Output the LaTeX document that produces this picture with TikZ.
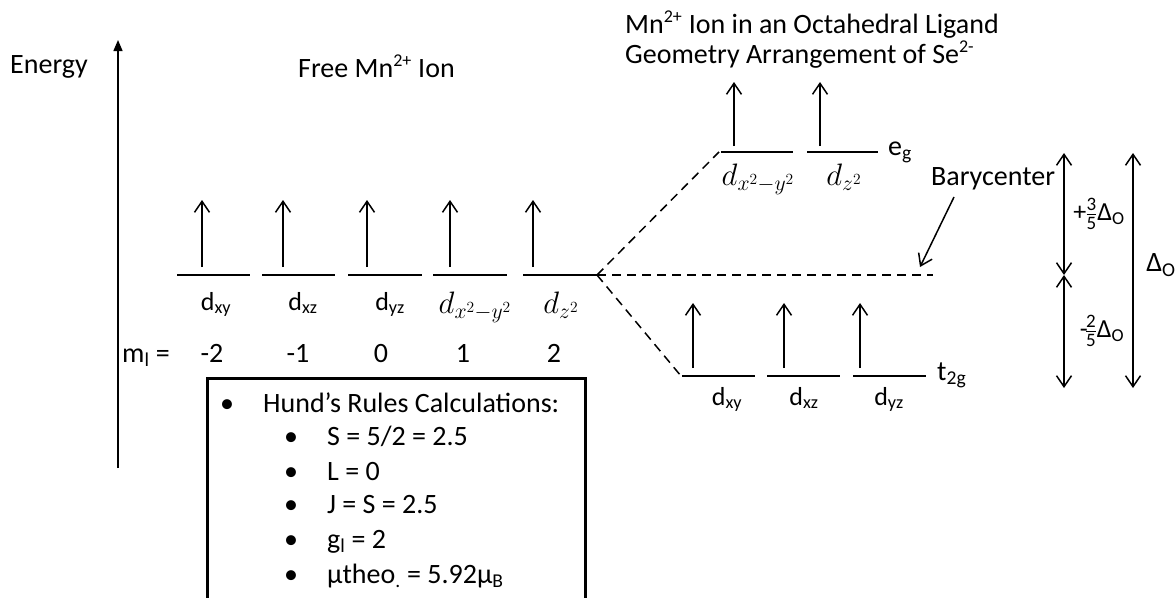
\RequirePackage{fix-cm}
\documentclass[tikz,border=0pt]{standalone}
\usepackage{amsmath}
\usepackage{fontspec}
\setmainfont{Carlito}
\usetikzlibrary{arrows.meta}
\newcommand{\fracdigit}[1]{\text{\fontsize{19}{19}\selectfont #1}}
\begin{document}
\begin{tikzpicture}[x=1pt,y=-1pt,
  lvl/.style={line width=2pt},
  spin/.style={line width=1.5pt,-{Straight Barb[length=11pt,width=15pt,line width=1.5pt]}},
  dbl/.style={line width=1.5pt,{Straight Barb[length=11pt,width=15pt,line width=1.5pt]}-{Straight Barb[length=11pt,width=15pt,line width=1.5pt]}},
  dashln/.style={line width=1.5pt,dash pattern=on 9pt off 6pt},
  big/.style={font=\fontsize{28}{32}\selectfont, inner sep=0pt},
  lab/.style={font=\fontsize{26}{30}\selectfont, inner sep=0pt},
  mathlab/.style={font=\fontsize{31}{34}\selectfont, inner sep=0pt},
  mlab/.style={font=\fontsize{28}{32}\selectfont, inner sep=0pt},
  frac/.style={font=\fontsize{26}{30}\selectfont, inner sep=0pt},
]
\useasboundingbox (0,0) rectangle (1175,597);

% energy axis
\coordinate (ax0) at (118,468);
\coordinate (ax1) at (118,40);
\draw[line width=1.5pt,-{Triangle[length=11pt,width=9pt]}] (ax0) -- (ax1);
\node[big,anchor=base west] (energy) at (10,73) {Energy};

% titles
\node[big,anchor=base west] (free) at (298,77) {Free Mn\textsuperscript{\fontsize{18}{20}\selectfont 2+} Ion};
\node[big,anchor=base west] (t1) at (625,33) {Mn\textsuperscript{\fontsize{18}{20}\selectfont 2+} Ion in an Octahedral Ligand};
\node[big,anchor=base west] (t2) at (625,63) {Geometry Arrangement of Se\textsuperscript{\fontsize{18}{20}\selectfont 2-}};

% free ion levels
\foreach \i/\a/\b/\s in {1/177/250/202, 2/262/335/283, 3/348/422/367, 4/433/507/450, 5/523/597/533} {
  \coordinate (fa\i) at (\a,275);
  \coordinate (fb\i) at (\b,275);
  \draw[lvl] (fa\i) -- (fb\i);
  \coordinate (fs\i) at (\s,267);
  \coordinate (ft\i) at (\s,200);
  \draw[spin] (fs\i) -- (ft\i);
}
\node[lab,anchor=base] (lf1) at (216,310) {d\textsubscript{xy}};
\node[lab,anchor=base] (lf2) at (303,310) {d\textsubscript{xz}};
\node[lab,anchor=base] (lf3) at (390,310) {d\textsubscript{yz}};
\node[mathlab,anchor=base] (lf4) at (475,313) {$d_{x^2-y^2}$};
\node[mathlab,anchor=base] (lf5) at (561,313) {$d_{z^2}$};

% m_l row
\node[mlab,anchor=base] (ml) at (146,362) {m\textsubscript{l} =};
\node[mlab,anchor=base] (m1) at (212,362) {-2};
\node[mlab,anchor=base] (m2) at (298,362) {-1};
\node[mlab,anchor=base] (m3) at (381,362) {0};
\node[mlab,anchor=base] (m4) at (463,362) {1};
\node[mlab,anchor=base] (m5) at (554,362) {2};

% vertex and dashed lines
\coordinate (vx) at (597,275);
\coordinate (eg0) at (719,152);
\coordinate (t0) at (681,376);
\coordinate (bc) at (933,275);
\draw[dashln] (vx) -- (eg0);
\draw[dashln] (vx) -- (t0);
\draw[dashln] (vx) -- (bc);

% e_g levels
\foreach \i/\a/\b/\s in {1/721/793/734, 2/807/878/820} {
  \coordinate (ea\i) at (\a,152);
  \coordinate (eb\i) at (\b,152);
  \draw[lvl] (ea\i) -- (eb\i);
  \coordinate (es\i) at (\s,146);
  \coordinate (et\i) at (\s,82);
  \draw[spin] (es\i) -- (et\i);
}
\node[mathlab,anchor=base] (le1) at (758,185) {$d_{x^2-y^2}$};
\node[mathlab,anchor=base] (le2) at (844,185) {$d_{z^2}$};
\node[big,anchor=base west] (eg) at (888,155) {e\textsubscript{g}};

% t_2g levels
\foreach \i/\a/\b/\s in {1/682/755/693, 2/767/840/784, 3/853/926/860} {
  \coordinate (ta\i) at (\a,376);
  \coordinate (tb\i) at (\b,376);
  \draw[lvl] (ta\i) -- (tb\i);
  \coordinate (ts\i) at (\s,368);
  \coordinate (tt\i) at (\s,303);
  \draw[spin] (ts\i) -- (tt\i);
}
\node[lab,anchor=base] (lt1) at (727,405) {d\textsubscript{xy}};
\node[lab,anchor=base] (lt2) at (804,405) {d\textsubscript{xz}};
\node[lab,anchor=base] (lt3) at (889,405) {d\textsubscript{yz}};
\node[big,anchor=base west] (t2g) at (937,380) {t\textsubscript{2g}};

% barycenter
\node[big,anchor=base west] (bary) at (931,185) {Barycenter};
\coordinate (ba0) at (954,197);
\coordinate (ba1) at (920,267);
\draw[spin] (ba0) -- (ba1);

% splitting arrows
\coordinate (s1) at (1064,153);
\coordinate (s2) at (1064,275);
\coordinate (s3) at (1064,388);
\coordinate (d1) at (1133,153);
\coordinate (d2) at (1133,388);
\draw[dbl] (s2) -- (s1);
\draw[dbl] (s2) -- (s3);
\draw[dbl] (d1) -- (d2);
\node[frac,anchor=center] (p35) at (1099,214) {+\kern-1pt$\tfrac{\fracdigit{3}}{\fracdigit{5}}$Δ\textsubscript{O}};
\node[frac,anchor=center] (m25) at (1102,331) {-\kern-3pt$\tfrac{\fracdigit{2}}{\fracdigit{5}}$Δ\textsubscript{O}};
\node[big,anchor=center] (dO) at (1161,265) {Δ\textsubscript{O}};

% Hund's rules box
\begin{scope}
\clip (0,0) rectangle (1175,597);
\draw[line width=3pt] (207,640) -- (207,378) -- (585,378) -- (585,640);
\end{scope}
\node[big,anchor=base] (hb0) at (227,412) {•};
\node[big,anchor=base west] (h0) at (263,412) {Hund’s Rules Calculations:};
\node[big,anchor=base] (hb1) at (291,445) {•};
\node[big,anchor=base west] (h1) at (327,445) {S = 5/2 = 2.5};
\node[big,anchor=base] (hb2) at (291,480) {•};
\node[big,anchor=base west] (h2) at (327,480) {L = 0};
\node[big,anchor=base] (hb3) at (291,513) {•};
\node[big,anchor=base west] (h3) at (327,513) {J = S = 2.5};
\node[big,anchor=base] (hb4) at (291,548) {•};
\node[big,anchor=base west] (h4) at (327,548) {g\textsubscript{l} = 2};
\node[big,anchor=base] (hb5) at (291,583) {•};
\node[big,anchor=base west] (h5) at (327,583) {µtheo\textsubscript{.} = 5.92µ\textsubscript{B}};
\end{tikzpicture}
\end{document}
